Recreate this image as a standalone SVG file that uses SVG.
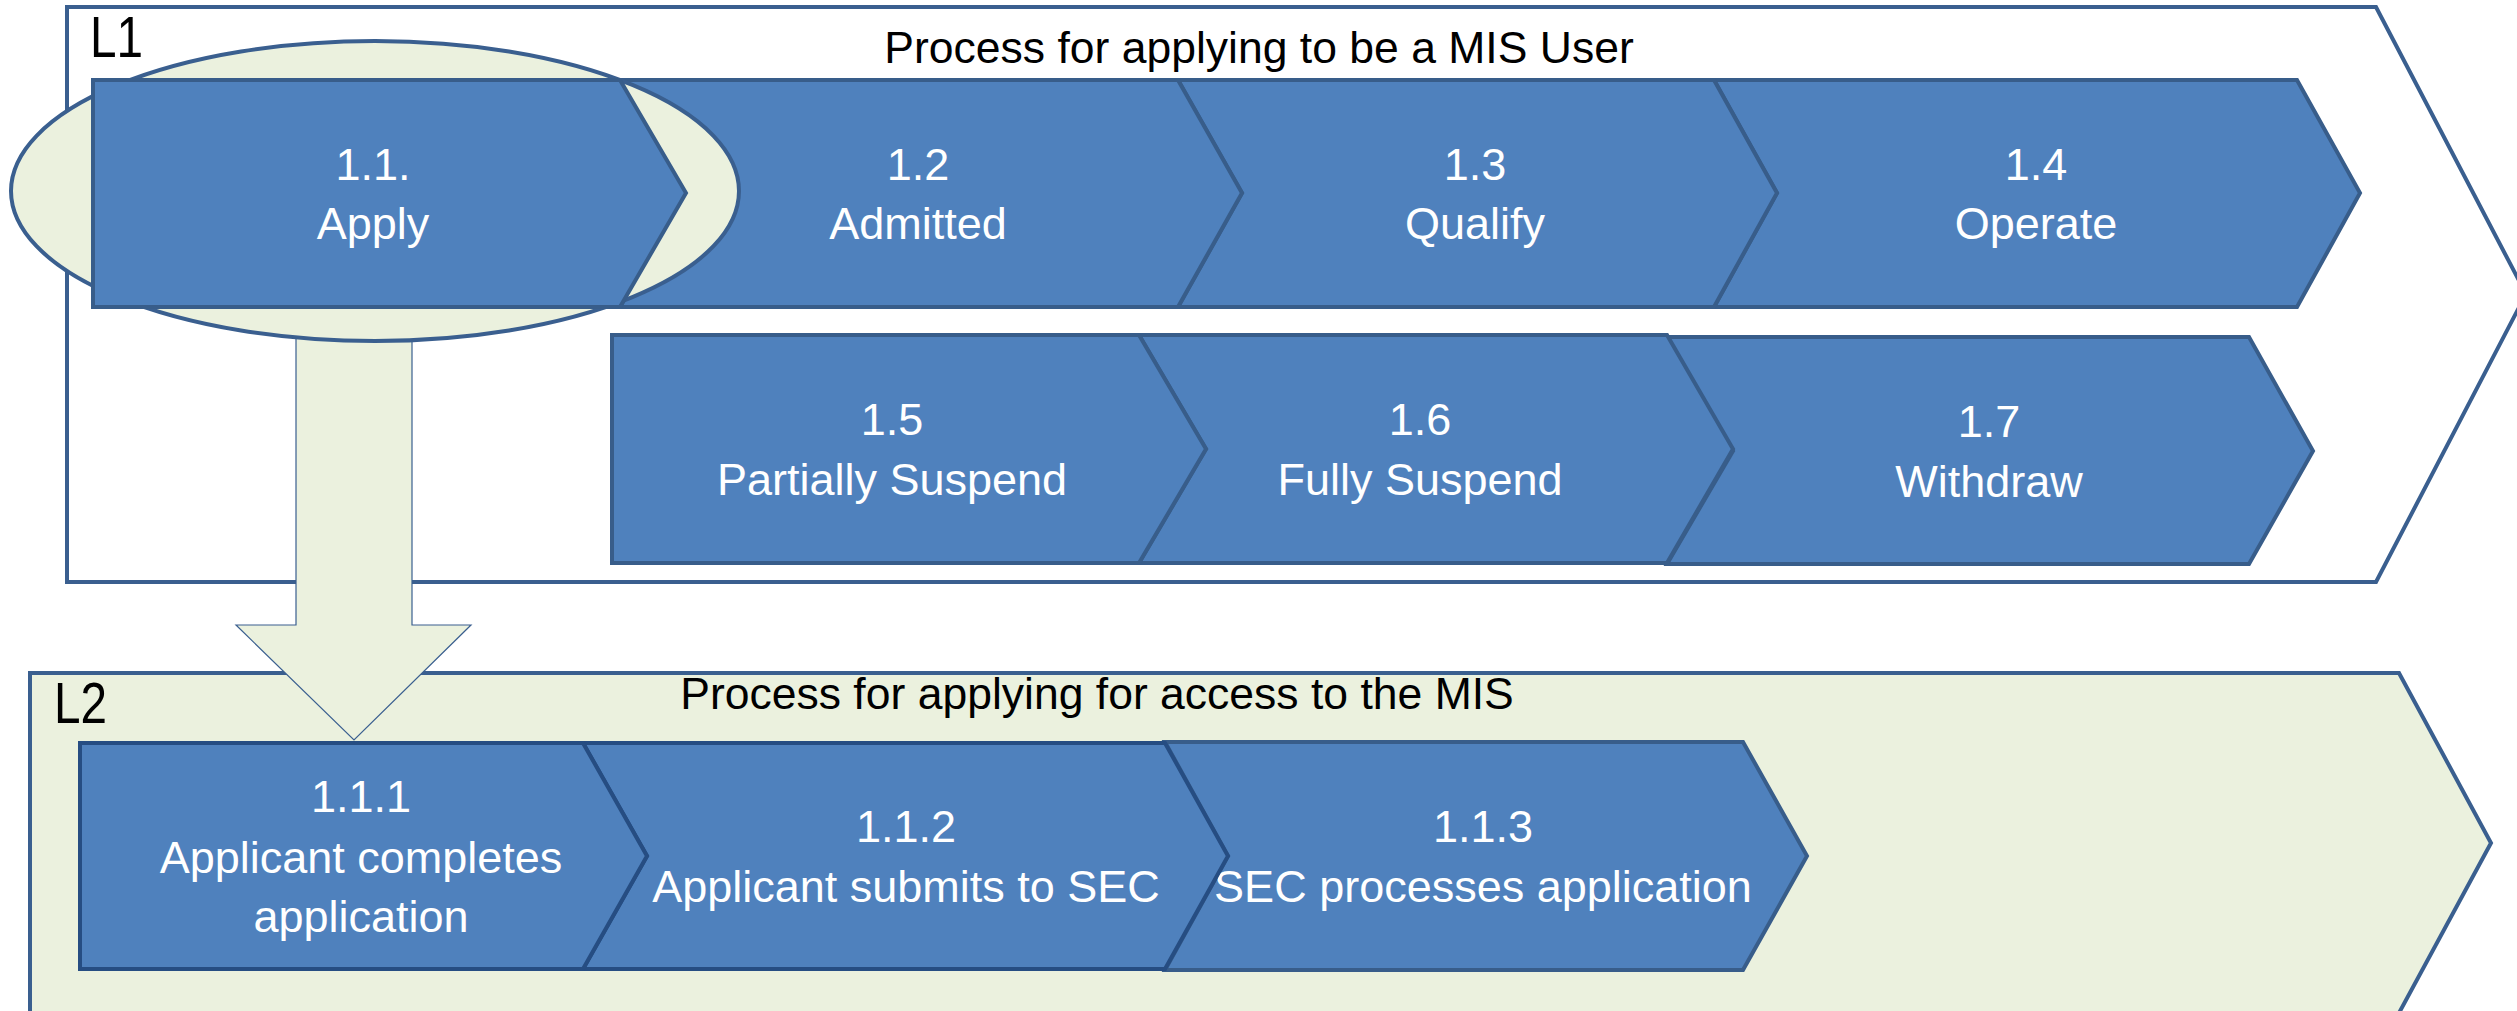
<svg xmlns="http://www.w3.org/2000/svg" width="2517" height="1011" viewBox="0 0 2517 1011">
<style>
.frame{stroke:#3A5F8F;stroke-width:4;stroke-linejoin:miter}
.step{fill:#4F81BD;stroke:#385D8A;stroke-width:4;stroke-linejoin:miter}
.step2{fill:#4F81BD;stroke:#264D82;stroke-width:4;stroke-linejoin:miter}
.lbl{font-family:"Liberation Sans",Arial,sans-serif;font-size:45px;fill:#FFFFFF;text-anchor:middle}
.title{font-family:"Liberation Sans",Arial,sans-serif;font-size:44.5px;fill:#000000;text-anchor:middle}
.lvl{font-family:"Liberation Sans",Arial,sans-serif;font-size:57px;fill:#000000}
</style>
<rect width="2517" height="1011" fill="#FFFFFF"/>

<g id="L1">
<polygon class="frame" fill="#FFFFFF" points="67,7 2376,7 2526,294 2376,582 67,582"/>
<text class="lvl" x="90" y="57" textLength="53" lengthAdjust="spacingAndGlyphs">L1</text>
<text class="title" x="1259" y="63">Process for applying to be a MIS User</text>
</g>

<g id="L2">
<polygon class="frame" fill="#EBF1DE" points="30,673 2399,673 2491,843 2399,1013 30,1013"/>
<text class="lvl" x="54" y="723" textLength="53" lengthAdjust="spacingAndGlyphs">L2</text>
<text class="title" x="1097" y="709">Process for applying for access to the MIS</text>
</g>

<g id="connectors">
<polygon fill="#EBF1DE" stroke="#3A5F8F" stroke-width="1.2" points="296,330 412,330 412,625 471,625 354,740 236,625 296,625"/>
</g>

<g id="n1_4">
<polygon class="step" points="1714,80 2297,80 2360,193 2297,307 1714,307 1777,193"/>
<text class="lbl" x="2036" y="180">1.4</text>
<text class="lbl" x="2036" y="239">Operate</text>
</g>
<g id="n1_3">
<polygon class="step" points="1178,80 1714,80 1777,193 1714,307 1178,307 1242,193"/>
<text class="lbl" x="1475" y="180">1.3</text>
<text class="lbl" x="1475" y="239">Qualify</text>
</g>
<g id="n1_2">
<polygon class="step" points="620,80 1178,80 1242,193 1178,307 620,307 686,193"/>
<text class="lbl" x="918" y="180">1.2</text>
<text class="lbl" x="918" y="239">Admitted</text>
</g>

<g id="highlight">
<ellipse cx="375" cy="191" rx="364" ry="150" fill="#EBF1DE" stroke="#3A5F8F" stroke-width="4"/>
</g>

<g id="n1_1">
<polygon class="step" points="93,80 620,80 686,193 620,307 93,307"/>
<text class="lbl" x="373" y="180">1.1.</text>
<text class="lbl" x="373" y="239">Apply</text>
</g>

<g id="n1_7">
<polygon class="step" points="1667,337 2249,337 2313,451 2249,564 1667,564 1733,451"/>
<text class="lbl" x="1989" y="437">1.7</text>
<text class="lbl" x="1989" y="497">Withdraw</text>
</g>
<g id="n1_6">
<polygon class="step" points="1139,335 1667,335 1733,449 1667,563 1139,563 1206,449"/>
<text class="lbl" x="1420" y="435">1.6</text>
<text class="lbl" x="1420" y="495">Fully Suspend</text>
</g>
<g id="n1_5">
<polygon class="step" points="612,335 1139,335 1206,449 1139,563 612,563"/>
<text class="lbl" x="892" y="435">1.5</text>
<text class="lbl" x="892" y="495">Partially Suspend</text>
</g>

<g id="n1_1_3">
<polygon class="step" points="1165,742 1743,742 1807,856 1743,970 1165,970 1228,856"/>
<text class="lbl" x="1483" y="842">1.1.3</text>
<text class="lbl" x="1483" y="902">SEC processes application</text>
</g>
<g id="n1_1_2">
<polygon class="step2" points="583,743 1165,743 1228,856 1165,969 583,969 647,856"/>
<text class="lbl" x="906" y="842">1.1.2</text>
<text class="lbl" x="906" y="902">Applicant submits to SEC</text>
</g>
<g id="n1_1_1">
<polygon class="step2" points="80,743 583,743 647,856 583,969 80,969"/>
<text class="lbl" x="361" y="812">1.1.1</text>
<text class="lbl" x="361" y="873">Applicant completes</text>
<text class="lbl" x="361" y="932">application</text>
</g>
</svg>
